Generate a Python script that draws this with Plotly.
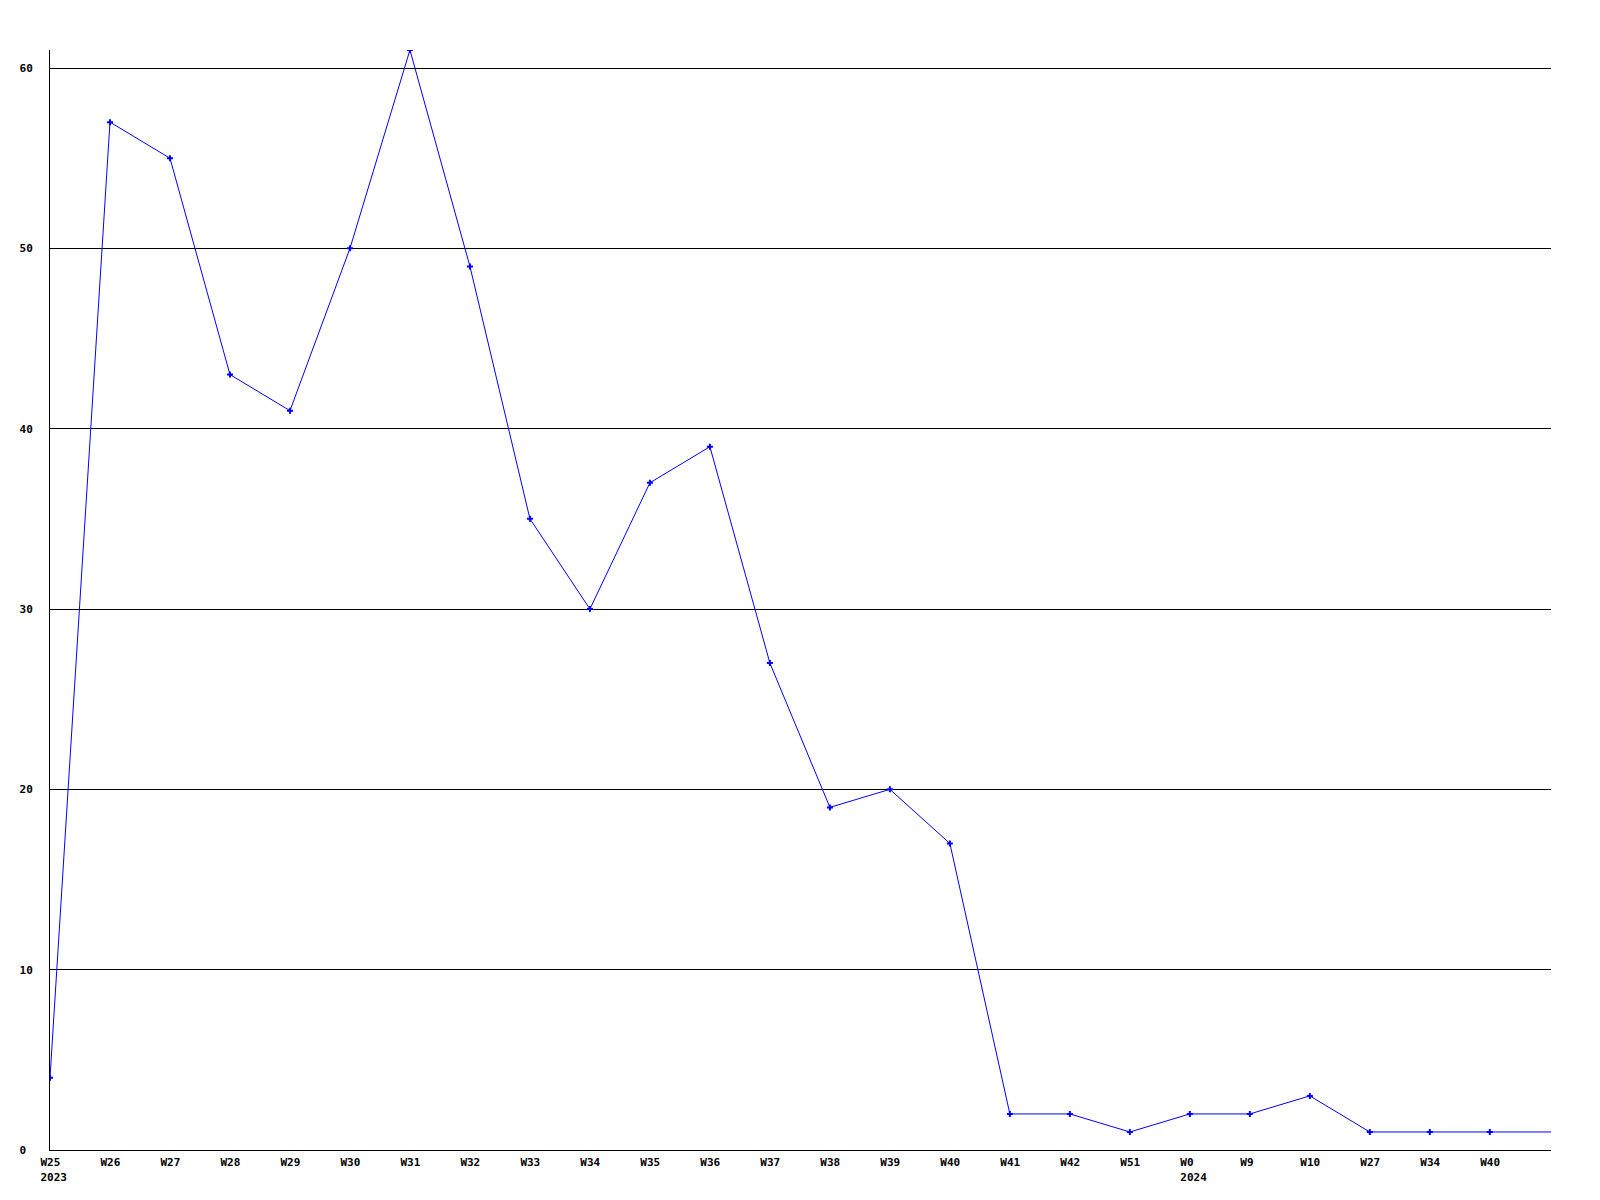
import plotly.graph_objects as go

week_labels = ["W25", "W26", "W27", "W28", "W29", "W30", "W31", "W32", "W33", "W34",
               "W35", "W36", "W37", "W38", "W39", "W40", "W41", "W42", "W51", "W0",
               "W9", "W10", "W27", "W34", "W40"]
year_labels = ["2023", "", "", "", "", "", "", "", "", "", "", "", "", "", "", "", "", "", "",
               "2024", "", "", "", "", ""]
counts = [4, 57, 55, 43, 41, 50, 61, 49, 35, 30, 37, 39, 27, 19, 20, 17, 2, 2, 1, 2, 2, 3, 1, 1, 1]
next_count = 1  # continuation beyond the visible range
y_ticks = [0, 10, 20, 30, 40, 50, 60]
y_tick_text = ["0\u00a0", "10", "20", "30", "40", "50", "60"]


def pad(s, n=5):
    return s + "\u00a0" * (n - len(s))


tick_text = []
for w, yr in zip(week_labels, year_labels):
    t = pad(w)
    if yr:
        t += "<br>" + pad(yr)
    tick_text.append(t)

x_pos = list(range(len(counts)))
fig = go.Figure()
fig.add_trace(go.Scatter(
    x=x_pos + [len(counts) + 1], y=counts + [next_count],
    mode="lines+markers",
    line=dict(color="#0000ff", width=1),
    marker=dict(color="#0000ff", size=5, symbol="cross"),
    showlegend=False,
))

tf = dict(family="DejaVu Sans Mono", size=11, color="black", weight="bold")
fig.update_layout(
    width=1600, height=1200,
    paper_bgcolor="white", plot_bgcolor="white",
    margin=dict(l=42, r=57, t=42, b=58, autoexpand=False),
    font=dict(family="DejaVu Sans Mono", size=11, color="black"),
)
fig.update_xaxes(
    range=[0, 25.02], tickmode="array", tickvals=x_pos, ticktext=tick_text,
    showgrid=False, zeroline=False, showline=True, linecolor="black", linewidth=1,
    ticks="", tickfont=tf, ticklabelstandoff=2, ticklabelshift=7, automargin=False,
)
fig.update_yaxes(
    range=[0, 61], tickmode="array", tickvals=y_ticks, ticktext=y_tick_text,
    showgrid=True, gridcolor="black", gridwidth=1, zeroline=False,
    showline=True, linecolor="black", linewidth=1, ticks="",
    tickfont=tf, ticklabelstandoff=14, automargin=False,
)
fig.write_html("out.html")
